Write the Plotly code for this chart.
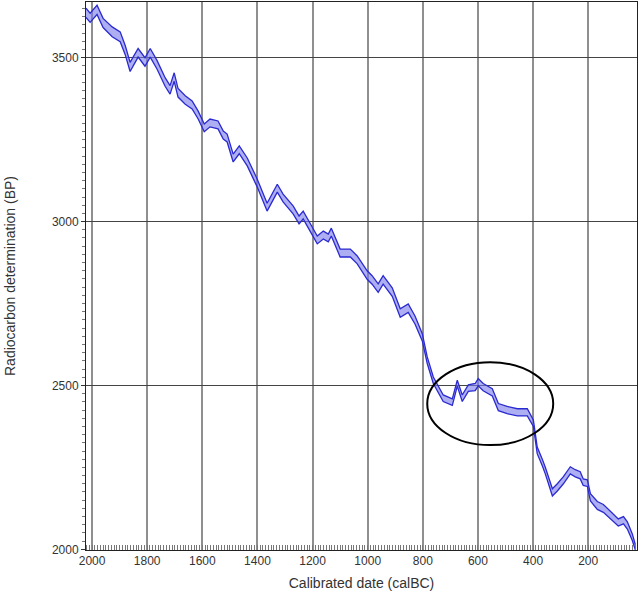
import plotly.graph_objects as go

# calibration curve (calBC, BP centre, 1 sigma)
years = [2022, 2007, 1982, 1960, 1927, 1898, 1880, 1862, 1833, 1808, 1789, 1764,
         1735, 1717, 1702, 1688, 1662, 1637, 1615, 1593, 1572, 1543, 1524, 1510,
         1488, 1466, 1437, 1401, 1365, 1328, 1307, 1270, 1249, 1234, 1209, 1183,
         1161, 1143, 1132, 1111, 1100, 1063, 1038, 1002, 984, 962, 944, 911,
         882, 853, 828, 802, 784, 762, 726, 693, 675, 657, 635, 610,
         599, 581, 548, 526, 494, 457, 421, 399, 385, 367, 356, 330,
         312, 290, 265, 247, 229, 218, 203, 192, 167, 145, 127, 109,
         91, 72, 58, 40, 29]
bp = [3637, 3622, 3646, 3606, 3579, 3564, 3524, 3472, 3515, 3487, 3515, 3478,
      3426, 3402, 3441, 3393, 3371, 3356, 3325, 3286, 3301, 3295, 3264, 3255,
      3194, 3219, 3182, 3118, 3044, 3102, 3072, 3035, 3005, 3020, 2983, 2944,
      2959, 2950, 2968, 2922, 2904, 2904, 2883, 2837, 2822, 2797, 2822, 2785,
      2721, 2736, 2699, 2647, 2577, 2516, 2461, 2449, 2507, 2461, 2492, 2495,
      2510, 2495, 2479, 2434, 2425, 2418, 2418, 2385, 2302, 2266, 2241, 2174,
      2189, 2211, 2241, 2232, 2226, 2205, 2202, 2159, 2134, 2125, 2110, 2095,
      2082, 2089, 2073, 2037, 2006]
sigma = [14, 14, 14, 14, 15, 15, 14, 14, 13, 13, 13, 13,
         13, 13, 13, 13, 13, 12, 12, 12, 12, 12, 12, 12,
         12, 12, 12, 12, 12, 12, 12, 12, 12, 12, 12, 12,
         12, 12, 12, 12, 12, 12, 12, 13, 13, 13, 13, 13,
         13, 13, 12, 11, 10, 10, 10, 10, 9, 10, 10, 11,
         11, 11, 11, 11, 11, 11, 11, 10, 10, 10, 10, 11,
         11, 11, 11, 11, 11, 10, 10, 11, 12, 12, 12, 12,
         11, 11, 11, 10, 8]

# circled plateau (calBC / BP)
ring_x = [784, 327]
ring_y = [2318, 2571]

upper = [b + s for b, s in zip(bp, sigma)]
lower = [b - s for b, s in zip(bp, sigma)]

edge = "#2a2ad0"
fig = go.Figure()
fig.add_trace(go.Scatter(x=years, y=upper, mode="lines",
                         line=dict(color=edge, width=1.3), showlegend=False))
fig.add_trace(go.Scatter(x=years, y=lower, mode="lines", fill="tonexty",
                         fillcolor="rgba(120,120,235,0.6)",
                         line=dict(color=edge, width=1.3), showlegend=False))

fig.add_shape(type="circle", xref="x", yref="y",
              x0=ring_x[0], x1=ring_x[1], y0=ring_y[0], y1=ring_y[1],
              line=dict(color="black", width=2))

font = dict(family="Liberation Sans, Arial, sans-serif", size=12, color="#333")
fig.update_layout(
    width=642, height=599,
    margin=dict(l=86, r=5, t=2, b=49),
    plot_bgcolor="white", paper_bgcolor="white",
    font=font,
    xaxis=dict(range=[2022, 23], tickvals=[2000, 1800, 1600, 1400, 1200, 1000, 800, 600, 400, 200],
               showgrid=True, gridcolor="#8f8f8f", gridwidth=1.5,
               showline=True, linecolor="#222", linewidth=1, mirror=True,
               ticks="", zeroline=False, automargin=False,
               minor=dict(dtick=10, ticks="inside", ticklen=5, tickcolor="#777", showgrid=False),
               title=dict(text="Calibrated date (calBC)", standoff=10)),
    yaxis=dict(range=[1998, 3670], tickvals=[2000, 2500, 3000, 3500],
               showgrid=True, gridcolor="#444", gridwidth=1,
               showline=True, linecolor="#222", linewidth=1, mirror=True,
               ticks="outside", ticklen=4, tickcolor="#333", zeroline=False, automargin=False,
               minor=dict(dtick=25, ticks="outside", ticklen=3, tickcolor="#777", showgrid=False),
               title=dict(text="Radiocarbon determination (BP)", standoff=32)),
)

# drop the page's default body margin so the figure sits at the window corner
fig.write_html("out.html", config={"displayModeBar": False},
               post_script="document.body.style.margin='0';")
